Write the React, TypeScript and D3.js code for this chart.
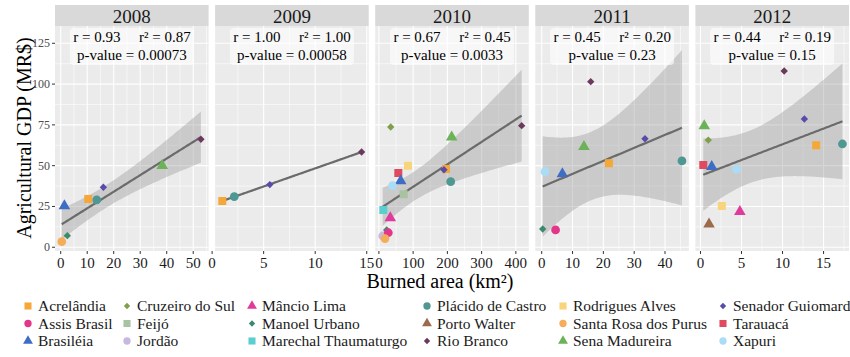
import React from 'react';
import * as d3 from 'd3';

// ---------- data ----------
const municipalities = [
  'Acrelândia', 'Assis Brasil', 'Brasiléia', 'Cruzeiro do Sul', 'Feijó', 'Jordão',
  'Mâncio Lima', 'Manoel Urbano', 'Marechal Thaumaturgo', 'Plácido de Castro', 'Porto Walter', 'Rio Branco',
  'Rodrigues Alves', 'Santa Rosa dos Purus', 'Sena Madureira', 'Senador Guiomard', 'Tarauacá', 'Xapuri',
];
const shapes = ['square', 'circle', 'triangle', 'diamond'];
const colors = [
  '#F5A838', '#E5358B', '#3D6DC4', '#7F9F4B', '#A7C3A1', '#C6B8DE',
  '#DF3A9C', '#3C8A6C', '#5BCFCF', '#4E9792', '#9C6A4D', '#6A3A5C',
  '#F8D57C', '#F4AE5A', '#6CB258', '#5A4AAA', '#DE4A5E', '#AADCF6',
];

const years = ['2008', '2009', '2010', '2011', '2012'];

const data2008 = [
  { m: 'Acrelândia', x: 10.4, y: 29.6 },
  { m: 'Plácido de Castro', x: 13.6, y: 29.0 },
  { m: 'Senador Guiomard', x: 16.1, y: 36.8 },
  { m: 'Brasiléia', x: 1.4, y: 25.3 },
  { m: 'Manoel Urbano', x: 2.5, y: 7.1 },
  { m: 'Santa Rosa dos Purus', x: 0.4, y: 3.4 },
  { m: 'Sena Madureira', x: 38.3, y: 50.0 },
  { m: 'Rio Branco', x: 52.9, y: 66.2 },
];
const data2009 = [
  { m: 'Acrelândia', x: 0.99, y: 28.4 },
  { m: 'Plácido de Castro', x: 2.15, y: 31.0 },
  { m: 'Senador Guiomard', x: 5.6, y: 38.4 },
  { m: 'Rio Branco', x: 14.5, y: 58.4 },
];
const data2010 = [
  { m: 'Cruzeiro do Sul', x: 34.5, y: 73.7 },
  { m: 'Sena Madureira', x: 212.6, y: 67.4 },
  { m: 'Rio Branco', x: 417, y: 74.5 },
  { m: 'Rodrigues Alves', x: 85, y: 50.0 },
  { m: 'Tarauacá', x: 56.7, y: 45.5 },
  { m: 'Brasiléia', x: 63.7, y: 40.6 },
  { m: 'Xapuri', x: 39.7, y: 37.7 },
  { m: 'Feijó', x: 72.4, y: 32.5 },
  { m: 'Acrelândia', x: 196, y: 48.0 },
  { m: 'Senador Guiomard', x: 190, y: 47.5 },
  { m: 'Plácido de Castro', x: 209.7, y: 40.2 },
  { m: 'Marechal Thaumaturgo', x: 12.9, y: 22.9 },
  { m: 'Mâncio Lima', x: 33.3, y: 18.0 },
  { m: 'Jordão', x: 11.1, y: 6.9 },
  { m: 'Manoel Urbano', x: 22.8, y: 10.6 },
  { m: 'Assis Brasil', x: 27.5, y: 8.9 },
  { m: 'Santa Rosa dos Purus', x: 17.8, y: 5.3 },
];
const data2011 = [
  { m: 'Rio Branco', x: 15.9, y: 101.5 },
  { m: 'Senador Guiomard', x: 33.5, y: 66.5 },
  { m: 'Sena Madureira', x: 13.7, y: 61.6 },
  { m: 'Acrelândia', x: 21.8, y: 51.5 },
  { m: 'Plácido de Castro', x: 45.5, y: 52.9 },
  { m: 'Xapuri', x: 1.07, y: 46.3 },
  { m: 'Brasiléia', x: 6.7, y: 44.9 },
  { m: 'Manoel Urbano', x: 0.32, y: 11.2 },
  { m: 'Assis Brasil', x: 4.5, y: 10.6 },
];
const data2012 = [
  { m: 'Rio Branco', x: 10.2, y: 108.0 },
  { m: 'Senador Guiomard', x: 12.66, y: 78.6 },
  { m: 'Sena Madureira', x: 0.46, y: 74.3 },
  { m: 'Cruzeiro do Sul', x: 0.95, y: 65.7 },
  { m: 'Acrelândia', x: 14.1, y: 62.5 },
  { m: 'Plácido de Castro', x: 17.3, y: 63.3 },
  { m: 'Tarauacá', x: 0.34, y: 50.4 },
  { m: 'Brasiléia', x: 1.37, y: 49.4 },
  { m: 'Xapuri', x: 4.4, y: 47.8 },
  { m: 'Rodrigues Alves', x: 2.6, y: 25.3 },
  { m: 'Mâncio Lima', x: 4.8, y: 21.8 },
  { m: 'Porto Walter', x: 1.04, y: 14.1 },
];
const panelData = [data2008, data2009, data2010, data2011, data2012];

const rLabels = ['r = 0.93', 'r = 1.00', 'r = 0.67', 'r = 0.45', 'r = 0.44'];
const r2Labels = ['r² = 0.87', 'r² = 1.00', 'r² = 0.45', 'r² = 0.20', 'r² = 0.19'];
const pLabels = ['p-value = 0.00073', 'p-value = 0.00058', 'p-value = 0.0033', 'p-value = 0.23', 'p-value = 0.15'];

const xTicks2008 = [0, 10, 20, 30, 40, 50];
const xTicks2009 = [0, 5, 10, 15];
const xTicks2010 = [0, 100, 200, 300, 400];
const xTicks2011 = [0, 10, 20, 30, 40];
const xTicks2012 = [0, 5, 10, 15];
const xTicksAll = [xTicks2008, xTicks2009, xTicks2010, xTicks2011, xTicks2012];
const yTicks = [0, 25, 50, 75, 100, 125];

// ---------- layout ----------
const W = 850, H = 357;
const panelTop = 26, panelBottom = 251, stripTop = 5;
const panelW = 153.6, panelGap = 6.5, firstLeft = 55;
const xDomains = [[-2.15, 55.8], [0.29, 15.19], [-10.8, 437.8], [-2.08, 47.75], [-0.62, 18.1]];
const yDomain = [-2.3, 135.6];
const FONT = '"Liberation Serif", "DejaVu Serif", serif';

const tTable = [0, 12.706, 4.303, 3.182, 2.776, 2.571, 2.447, 2.365, 2.306, 2.262, 2.228, 2.201, 2.179, 2.16, 2.145, 2.131, 2.12, 2.11, 2.101, 2.093, 2.086];

function regression(pts) {
  const n = pts.length;
  const mx = d3.mean(pts, d => d.x);
  const my = d3.mean(pts, d => d.y);
  const sxx = d3.sum(pts, d => (d.x - mx) ** 2);
  const sxy = d3.sum(pts, d => (d.x - mx) * (d.y - my));
  const b = sxy / sxx;
  const a = my - b * mx;
  const sse = d3.sum(pts, d => (d.y - (a + b * d.x)) ** 2);
  const s = Math.sqrt(sse / (n - 2));
  const t = tTable[Math.min(n - 2, 20)];
  const [x0, x1] = d3.extent(pts, d => d.x);
  const xs = d3.range(81).map(i => x0 + ((x1 - x0) * i) / 80);
  return xs.map(x => {
    const fit = a + b * x;
    const se = s * Math.sqrt(1 / n + (x - mx) ** 2 / sxx);
    return { x, fit, lo: fit - t * se, hi: fit + t * se };
  });
}

function symbolPath(shape, kind) {
  const sizes = kind === 'plot'
    ? { circle: 60, square: 64, triangle: 58, diamond: 27 }
    : { circle: 42, square: 50, triangle: 42, diamond: 20 };
  const type = shape === 'circle' ? d3.symbolCircle
    : shape === 'triangle' ? d3.symbolTriangle
    : d3.symbolSquare;
  return d3.symbol().type(type).size(sizes[shape])();
}

function styleOf(name) {
  const i = municipalities.indexOf(name);
  return { color: colors[i], shape: shapes[i % 4] };
}

const textStyle = { fontFamily: FONT };

function Panel({ idx }) {
  const left = firstLeft + idx * (panelW + panelGap);
  const right = left + panelW;
  const x = d3.scaleLinear().domain(xDomains[idx]).range([left, right]);
  const y = d3.scaleLinear().domain(yDomain).range([panelBottom, panelTop]);
  const pts = panelData[idx];
  const reg = regression(pts);
  const area = d3.area().x(d => x(d.x)).y0(d => y(d.lo)).y1(d => y(d.hi));
  const line = d3.line().x(d => x(d.x)).y(d => y(d.fit));
  const ticks = xTicksAll[idx];
  const step = ticks[1] - ticks[0];
  const [d0, d1] = xDomains[idx];
  const xMinor = d3.range(Math.floor(d0 / step) * step - step / 2, d1 + step, step).filter(v => v > d0 && v < d1);
  const yMinor = [12.5, 37.5, 62.5, 87.5, 112.5];
  const cx = (left + right) / 2;
  const clipId = `clip-${idx}`;
  return (
    <g>
      <defs>
        <clipPath id={clipId}>
          <rect x={left} y={panelTop} width={panelW} height={panelBottom - panelTop} />
        </clipPath>
      </defs>
      <rect x={left} y={panelTop} width={panelW} height={panelBottom - panelTop} fill="#EBEBEB" />
      {yMinor.map(v => (
        <line key={'ym' + v} x1={left} x2={right} y1={y(v)} y2={y(v)} stroke="#fff" strokeWidth={0.55} />
      ))}
      {xMinor.map(v => (
        <line key={'xm' + v} x1={x(v)} x2={x(v)} y1={panelTop} y2={panelBottom} stroke="#fff" strokeWidth={0.55} />
      ))}
      {yTicks.map(v => (
        <line key={'y' + v} x1={left} x2={right} y1={y(v)} y2={y(v)} stroke="#fff" strokeWidth={1.1} />
      ))}
      {ticks.map(v => (
        <line key={'x' + v} x1={x(v)} x2={x(v)} y1={panelTop} y2={panelBottom} stroke="#fff" strokeWidth={1.1} />
      ))}
      <g clipPath={`url(#${clipId})`}>
        <path d={area(reg)} fill="#999999" fillOpacity={0.4} />
        <path d={line(reg)} fill="none" stroke="#6B6B6B" strokeWidth={2.2} />
        {pts.map((p, i) => {
          const st = styleOf(p.m);
          return (
            <path
              key={i}
              d={symbolPath(st.shape, 'plot')}
              transform={`translate(${x(p.x)},${y(p.y)})${st.shape === 'diamond' ? ' rotate(45)' : ''}`}
              fill={st.color}
            />
          );
        })}
      </g>
      {/* strip */}
      <rect x={left} y={stripTop} width={panelW} height={panelTop - stripTop} fill="#D9D9D9" />
      <text x={cx} y={22.5} textAnchor="middle" fontSize={19} fill="#1A1A1A" style={textStyle}>{years[idx]}</text>
      {/* stats label */}
      <rect x={cx - 62} y={28} width={124} height={37} rx={4} fill="#fff" fillOpacity={0.62} />
      <text x={cx - 35} y={41.5} textAnchor="middle" fontSize={15} fill="#000" style={textStyle}>{rLabels[idx]}</text>
      <text x={cx + 33} y={41.5} textAnchor="middle" fontSize={15} fill="#000" style={textStyle}>{r2Labels[idx]}</text>
      <text x={cx} y={59.5} textAnchor="middle" fontSize={15} fill="#000" style={textStyle}>{pLabels[idx]}</text>
      {/* x axis */}
      {ticks.map(v => (
        <g key={'xt' + v}>
          <line x1={x(v)} x2={x(v)} y1={panelBottom} y2={panelBottom + 3} stroke="#333" strokeWidth={1} />
          <text x={x(v)} y={268} textAnchor="middle" fontSize={15} fill="#1A1A1A" style={textStyle}>{v}</text>
        </g>
      ))}
      {idx === 0 &&
        yTicks.map(v => (
          <g key={'yt' + v}>
            <line x1={left - 3} x2={left} y1={y(v)} y2={y(v)} stroke="#333" strokeWidth={1} />
            <text x={left - 5} y={y(v) + 4} textAnchor="end" fontSize={12} fill="#4D4D4D" style={textStyle}>{v}</text>
          </g>
        ))}
    </g>
  );
}

const legendTextX = [38, 137, 262, 437, 573, 733];
const legendRowY = [306, 323.5, 341];

function Legend() {
  return (
    <g>
      {municipalities.map((name, i) => {
        const col = Math.floor(i / 3);
        const row = i % 3;
        const st = styleOf(name);
        const tx = legendTextX[col];
        const ty = legendRowY[row];
        return (
          <g key={name}>
            <path
              d={symbolPath(st.shape, 'legend')}
              transform={`translate(${tx - 10},${ty})${st.shape === 'diamond' ? ' rotate(45)' : ''}`}
              fill={st.color}
            />
            <text x={tx} y={ty + 5} fontSize={15.5} fill="#1A1A1A" style={textStyle}>{name}</text>
          </g>
        );
      })}
    </g>
  );
}

export default function App() {
  return (
    <svg
      width={W}
      height={H}
      viewBox={`0 0 ${W} ${H}`}
      style={{ position: 'absolute', left: 0, top: 0, display: 'block', background: '#fff', fontFamily: FONT }}
    >
      <rect x={0} y={0} width={W} height={H} fill="#fff" />
      {years.map((yr, i) => (
        <Panel key={yr} idx={i} />
      ))}
      <text
        transform={`translate(31,138) rotate(-90)`}
        textAnchor="middle"
        fontSize={20}
        fill="#000"
        style={textStyle}
      >
        Agricultural GDP (MR$)
      </text>
      <text x={440} y={288} textAnchor="middle" fontSize={20} fill="#000" style={textStyle}>Burned area (km²)</text>
      <Legend />
    </svg>
  );
}
